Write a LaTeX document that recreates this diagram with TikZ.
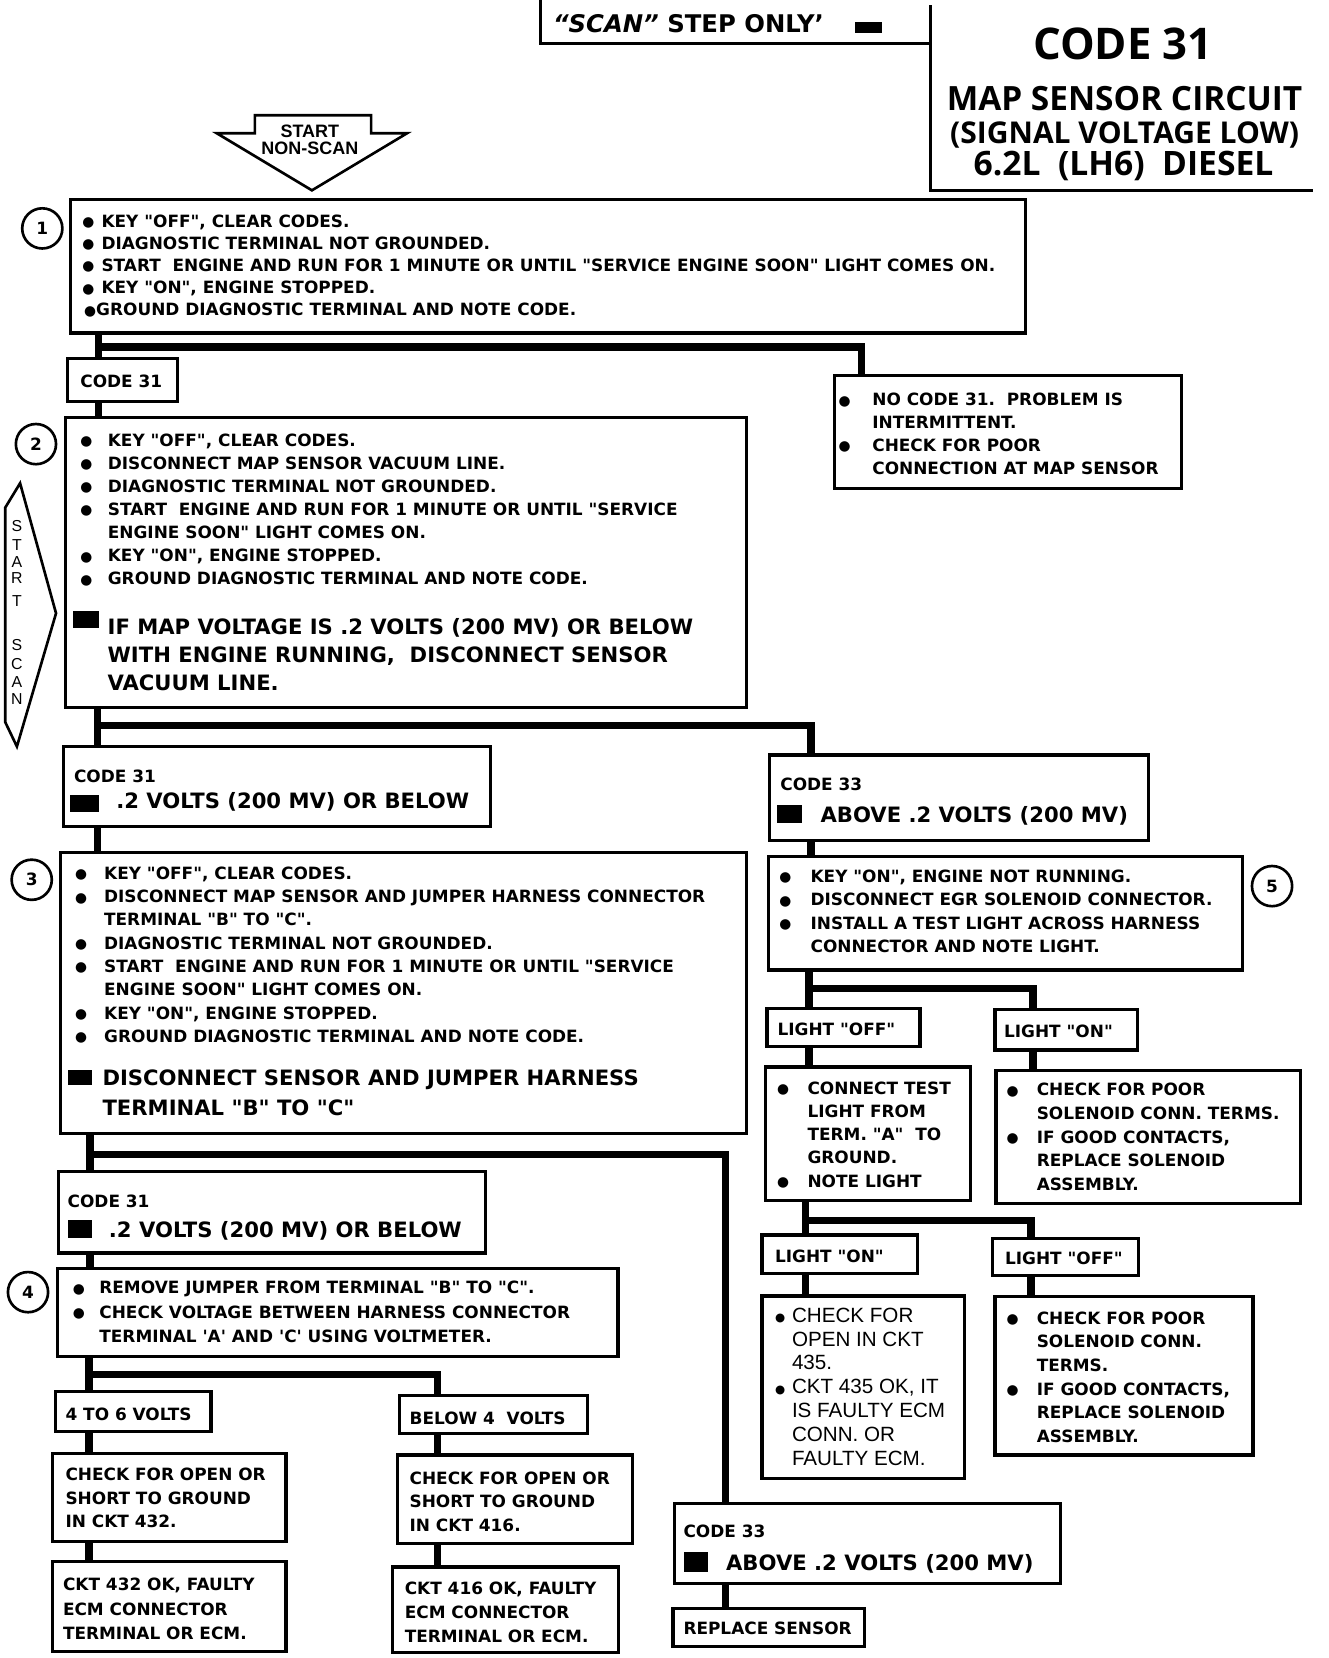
\documentclass[tikz,border=0pt]{standalone}
\usepackage{fontspec}
\setmainfont{DejaVu Sans}
\newfontfamily\djv{DejaVu Sans}
\newfontfamily\titlefont{Open Sans}
\newfontfamily\arialfont{Liberation Sans}
\newlength\bw
\newcommand\bul{\raisebox{0.6pt}{\djv\fontsize{13}{13}\selectfont ●}}
\newcommand\bli{\makebox[\bw][l]{\bul}}
\newcommand\blist[6]{\node[txt] (#1) at (#2,#3) {\fontsize{16}{#4}\selectfont\setlength\bw{#5pt}\begin{tabular}[t]{@{}l@{}l@{}}#6\end{tabular}};}
\newcommand\bx[5]{\node[box, minimum width={(#4-#2)*1pt}, minimum height={(#5-#3)*1pt}] (#1) at (#2,#3) {};}
\newcommand\one[4]{\node[txt, font=\djv\bfseries\fontsize{#4}{#4}\selectfont] (#1) at (#2,#3)}
\tikzset{
  box/.style={draw, line width=3pt, rectangle, inner sep=0pt, outer sep=0pt, anchor=north west},
  txt/.style={inner sep=0pt, outer sep=0pt, anchor=base west, font=\djv\bfseries},
  link/.style={line width=7pt},
  frame/.style={line width=3pt},
  num/.style={draw, circle, line width=2.5pt, minimum size=38pt, inner sep=0pt, font=\djv\bfseries\fontsize{16}{16}\selectfont},
}
\begin{document}
\begin{tikzpicture}[x=1pt,y=-1pt]
\useasboundingbox[fill=white] (0,0) rectangle (1256,1568);

% ---------- title block ----------
\draw[frame] (511,0) -- (511,41) -- (880,41);
\draw[frame] (880,5) -- (880,180) -- (1242,180);
\node[txt] (scan) at (523,31) {\fontsize{23}{23}\selectfont{\itshape “SCAN”} STEP ONLY’};
\fill (808.7,20.5) rectangle (834,31.5);
\node[anchor=base, inner sep=0pt, font=\titlefont\bfseries\fontsize{41.3}{45}\selectfont] (tcode) at (1062,56.5) {CODE 31};
\node[anchor=base, inner sep=0pt, font=\titlefont\bfseries\fontsize{31.6}{34}\selectfont] (tmap) at (1063.5,104.6) {MAP SENSOR CIRCUIT};
\node[anchor=base, inner sep=0pt, font=\titlefont\bfseries\fontsize{28.4}{30}\selectfont] (tsig) at (1063.5,135.3) {(SIGNAL VOLTAGE LOW)};
\node[anchor=base, inner sep=0pt, font=\titlefont\bfseries\fontsize{31.8}{34}\selectfont] (tdies) at (1062.5,165.7) {6.2L\ \ (LH6)\ \ DIESEL};

% ---------- start arrows ----------
\draw[line width=2.5pt, line join=miter] (241,109) -- (351,109) -- (351,126) -- (385,126) -- (295,180) -- (205,126) -- (241,126) -- cycle;
\node[anchor=base, inner sep=0pt, font=\arialfont\bfseries\fontsize{17}{16}\selectfont] (nonscan) at (293,129.7) {\begin{tabular}[t]{@{}c@{}}START\\NON-SCAN\end{tabular}};
\draw[line width=2.5pt, line join=miter] (19,457) -- (5,480) -- (5,683) -- (16,706) -- (53,580) -- cycle;
\foreach \l/\yy [count=\i] in {S/503,T/521,A/537,R/552,T/574,S/615,C/633,A/650,N/666}
  \node[anchor=base, inner sep=0pt, font=\arialfont\fontsize{15}{15}\selectfont] (ss\i) at (16,\yy) {\l};

% ---------- boxes ----------
\bx{b1}{67}{189}{970}{315}
\bx{c31a}{64}{339}{168}{380}
\bx{nc}{789}{355}{1117}{462}
\bx{b2}{62}{395}{706}{669}
\bx{c31b}{60}{706}{464}{782}
\bx{c33a}{727.5}{714}{1086}{794.5}
\bx{b3}{57}{806}{706}{1072}
\bx{c31c}{55}{1108}{459}{1185}
\bx{b4}{54}{1199.5}{584.5}{1283}
\bx{v46}{52.7}{1316}{199.5}{1354}
\bx{b4v}{378}{1320}{555.7}{1356}
\bx{ck432}{49.5}{1374.5}{270.5}{1458}
\bx{ck416}{376}{1376}{598}{1460}
\bx{ok432}{49.5}{1477}{270.5}{1562}
\bx{ok416}{371.4}{1482}{584.6}{1563}
\bx{c33b}{638}{1422}{1003}{1497.5}
\bx{rep}{636.4}{1521}{817.7}{1557.4}
\bx{b5}{726.6}{810}{1175}{917.4}
\bx{lo1}{725.4}{953.6}{870}{990}
\bx{ln1}{941}{955}{1075.8}{993}
\bx{ctl}{724}{1009}{918}{1135}
\bx{poor1}{942}{1012}{1229.6}{1138}
\bx{ln2}{720.7}{1168}{868}{1204}
\bx{lo2}{939}{1171}{1076.5}{1206}
\bx{o435}{720.7}{1225.7}{912.3}{1398}
\bx{poor2}{941}{1226.4}{1185}{1376}

% ---------- numbers ----------
\node[num] (n1) at (40,216) {1};
\node[num] (n2) at (34,420) {2};
\node[num] (n3) at (30,832) {3};
\node[num] (n4) at (26.5,1222) {4};
\node[num] (n5) at (1203,838) {5};

% ---------- squares ----------
\fill (68.8,578) rectangle (94,594);
\fill (66.5,752) rectangle (94,768);
\fill (735,761.5) rectangle (758.5,778.7);
\fill (64,1012) rectangle (87,1026);
\fill (64,1154) rectangle (87,1171);
\fill (646.4,1467.5) rectangle (669.4,1486.5);

% ---------- texts ----------
\blist{b1t}{78}{214.7}{21}{18}{%
\bli & KEY "OFF", CLEAR CODES.\\
\bli & DIAGNOSTIC TERMINAL NOT GROUNDED.\\
\bli & START\ \ ENGINE AND RUN FOR 1 MINUTE OR UNTIL "SERVICE ENGINE SOON" LIGHT COMES ON.\\
\bli & KEY "ON", ENGINE STOPPED.\\
 & \hspace*{-5pt}\llap{\bul}GROUND DIAGNOSTIC TERMINAL AND NOTE CODE.}
\one{c31at}{76}{366.7}{16}{CODE 31};
\blist{nct}{793}{383.7}{21.7}{32}{%
\bli & NO CODE 31.\ \ PROBLEM IS\\
 & INTERMITTENT.\\
\bli & CHECK FOR POOR\\
 & CONNECTION AT MAP SENSOR}
\blist{b2t}{76}{422.2}{21.8}{26}{%
\bli & KEY "OFF", CLEAR CODES.\\
\bli & DISCONNECT MAP SENSOR VACUUM LINE.\\
\bli & DIAGNOSTIC TERMINAL NOT GROUNDED.\\
\bli & START\ \ ENGINE AND RUN FOR 1 MINUTE OR UNTIL "SERVICE\\
 & ENGINE SOON" LIGHT COMES ON.\\
\bli & KEY "ON", ENGINE STOPPED.\\
\bli & GROUND DIAGNOSTIC TERMINAL AND NOTE CODE.}
\node[txt, font=\djv\bfseries\fontsize{20}{26.5}\selectfont] (b2big) at (101.8,599.6) {\begin{tabular}[t]{@{}l@{}}IF MAP VOLTAGE IS .2 VOLTS (200 MV) OR BELOW\\WITH ENGINE RUNNING,\ \ DISCONNECT SENSOR\\VACUUM LINE.\end{tabular}};
\one{c31bt1}{70}{739.7}{16}{CODE 31};
\one{c31bt2}{110}{764.6}{20}{.2 VOLTS (200 MV) OR BELOW};
\one{c33at1}{738}{747.7}{16}{CODE 33};
\one{c33at2}{776}{777.6}{20}{ABOVE .2 VOLTS (200 MV)};
\blist{b3t}{71}{831.7}{22}{27.5}{%
\bli & KEY "OFF", CLEAR CODES.\\
\bli & DISCONNECT MAP SENSOR AND JUMPER HARNESS CONNECTOR\\
 & TERMINAL "B" TO "C".\\
\bli & DIAGNOSTIC TERMINAL NOT GROUNDED.\\
\bli & START\ \ ENGINE AND RUN FOR 1 MINUTE OR UNTIL "SERVICE\\
 & ENGINE SOON" LIGHT COMES ON.\\
\bli & KEY "ON", ENGINE STOPPED.\\
\bli & GROUND DIAGNOSTIC TERMINAL AND NOTE CODE.}
\node[txt, font=\djv\bfseries\fontsize{20}{28}\selectfont] (b3big) at (97,1026.6) {\begin{tabular}[t]{@{}l@{}}DISCONNECT SENSOR AND JUMPER HARNESS\\TERMINAL "B" TO "C"\end{tabular}};
\one{c31ct1}{64}{1141.7}{16}{CODE 31};
\one{c31ct2}{103}{1170.6}{20}{.2 VOLTS (200 MV) OR BELOW};
\blist{b4t}{69}{1223.7}{23}{25}{%
\bli & REMOVE JUMPER FROM TERMINAL "B" TO "C".\\
\bli & CHECK VOLTAGE BETWEEN HARNESS CONNECTOR\\
 & TERMINAL 'A' AND 'C' USING VOLTMETER.}
\one{v46t}{62}{1343.7}{16}{4 TO 6 VOLTS};
\one{b4vt}{387.4}{1346.7}{16}{BELOW 4\ \ VOLTS};
\node[txt, font=\djv\bfseries\fontsize{16}{22.3}\selectfont] (ck432t) at (62,1400.3) {\begin{tabular}[t]{@{}l@{}}CHECK FOR OPEN OR\\SHORT TO GROUND\\IN CKT 432.\end{tabular}};
\node[txt, font=\djv\bfseries\fontsize{16}{22.3}\selectfont] (ck416t) at (387.4,1403.7) {\begin{tabular}[t]{@{}l@{}}CHECK FOR OPEN OR\\SHORT TO GROUND\\IN CKT 416.\end{tabular}};
\node[txt, font=\djv\bfseries\fontsize{16}{23}\selectfont] (ok432t) at (59.6,1504.4) {\begin{tabular}[t]{@{}l@{}}CKT 432 OK, FAULTY\\ECM CONNECTOR\\TERMINAL OR ECM.\end{tabular}};
\node[txt, font=\djv\bfseries\fontsize{16}{23}\selectfont] (ok416t) at (382.8,1507.7) {\begin{tabular}[t]{@{}l@{}}CKT 416 OK, FAULTY\\ECM CONNECTOR\\TERMINAL OR ECM.\end{tabular}};
\one{c33bt1}{646.4}{1454}{16}{CODE 33};
\one{c33bt2}{686.7}{1485.3}{20}{ABOVE .2 VOLTS (200 MV)};
\one{rept}{646.4}{1545.5}{16}{REPLACE SENSOR};
\blist{b5t}{737}{834.7}{22}{29.6}{%
\bli & KEY "ON", ENGINE NOT RUNNING.\\
\bli & DISCONNECT EGR SOLENOID CONNECTOR.\\
\bli & INSTALL A TEST LIGHT ACROSS HARNESS\\
 & CONNECTOR AND NOTE LIGHT.}
\one{lo1t}{735.4}{979.4}{16}{LIGHT "OFF"};
\one{ln1t}{949.6}{981.2}{16}{LIGHT "ON"};
\blist{ctlt}{735}{1034.7}{22}{28.7}{%
\bli & CONNECT TEST\\
 & LIGHT FROM\\
 & TERM. "A"\ \ TO\\
 & GROUND.\\
\bli & NOTE LIGHT}
\blist{poor1t}{952}{1036.3}{22.4}{28.5}{%
\bli & CHECK FOR POOR\\
 & SOLENOID CONN. TERMS.\\
\bli & IF GOOD CONTACTS,\\
 & REPLACE SOLENOID\\
 & ASSEMBLY.}
\one{ln2t}{733}{1193.7}{16}{LIGHT "ON"};
\one{lo2t}{950.5}{1195.7}{16}{LIGHT "OFF"};
\node[txt, font=\arialfont\mdseries\fontsize{19.5}{22.6}\selectfont] (o435t) at (733,1250.4) {\setlength\bw{16pt}\begin{tabular}[t]{@{}l@{}l@{}}\makebox[\bw][l]{\raisebox{0.5pt}{\djv\fontsize{11}{11}\selectfont ●}} & CHECK FOR\\ & OPEN IN CKT\\ & 435.\\\makebox[\bw][l]{\raisebox{0.5pt}{\djv\fontsize{11}{11}\selectfont ●}} & CKT 435 OK, IT\\ & IS FAULTY ECM\\ & CONN. OR\\ & FAULTY ECM.\end{tabular}};
\blist{poor2t}{952}{1252.3}{22.4}{28.5}{%
\bli & CHECK FOR POOR\\
 & SOLENOID CONN.\\
 & TERMS.\\
\bli & IF GOOD CONTACTS,\\
 & REPLACE SOLENOID\\
 & ASSEMBLY.}

% ---------- connectors ----------
\coordinate (jA) at (93,328);   \coordinate (kA) at (815,328);
\coordinate (jB) at (92,686);   \coordinate (kB) at (767,686);
\coordinate (jC) at (85,1092);  \coordinate (kC) at (686,1092);
\coordinate (jD) at (84,1300);  \coordinate (kD) at (414,1300);
\coordinate (jE) at (765,935);  \coordinate (kE) at (977,935);
\coordinate (jF) at (762,1154); \coordinate (kF) at (975,1154);

\draw[link] (b1.south -| jA) -- (c31a.north -| jA);
\draw[link] (jA) -- (kA) -- (kA |- nc.north);
\draw[link] (c31a.south -| jA) -- (b2.north -| jA);
\draw[link] (b2.south -| jB) -- (c31b.north -| jB);
\draw[link] (jB) -- (kB) -- (kB |- c33a.north);
\draw[link] (c31b.south -| jB) -- (b3.north -| jB);
\draw[link] (b3.south -| jC) -- (c31c.north -| jC);
\draw[link] (jC) -- (kC) -- (kC |- c33b.north);
\draw[link] (c31c.south -| jC) -- (b4.north -| jC);
\draw[link] (b4.south -| jD) -- (v46.north -| jD);
\draw[link] (jD) -- (kD) -- (kD |- b4v.north);
\draw[link] (v46.south -| jD) -- (ck432.north -| jD);
\draw[link] (ck432.south -| jD) -- (ok432.north -| jD);
\draw[link] (b4v.south -| kD) -- (ck416.north -| kD);
\draw[link] (ck416.south -| kD) -- (ok416.north -| kD);
\draw[link] (c33b.south -| kC) -- (rep.north -| kC);
\draw[link] (c33a.south -| kB) -- (b5.north -| kB);
\draw[link] (b5.south -| jE) -- (lo1.north -| jE);
\draw[link] (jE) -- (kE) -- (kE |- ln1.north);
\draw[link] (lo1.south -| jE) -- (ctl.north -| jE);
\draw[link] (ln1.south -| kE) -- (poor1.north -| kE);
\draw[link] (ctl.south -| jF) -- (ln2.north -| jF);
\draw[link] (jF) -- (kF) -- (kF |- lo2.north);
\draw[link] (ln2.south -| jF) -- (o435.north -| jF);
\draw[link] (lo2.south -| kF) -- (poor2.north -| kF);
\end{tikzpicture}
\end{document}
